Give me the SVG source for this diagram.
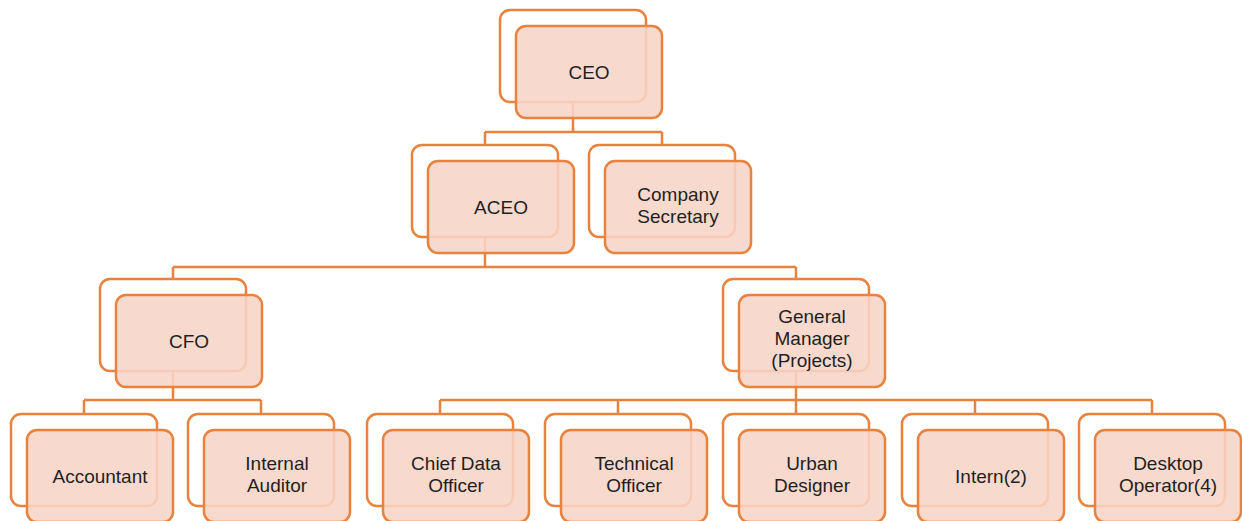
<svg xmlns="http://www.w3.org/2000/svg" width="1242" height="521" viewBox="0 0 1242 521">
  <style>
    .back { fill: #ffffff; stroke: #E8833F; stroke-width: 2.5; }
    .front { fill: #F7D4C6; fill-opacity: 0.88; stroke: #E8833F; stroke-width: 2.5; }
    .wire { fill: none; stroke: #E8833F; stroke-width: 2.5; }
    text { font-family: "Liberation Sans", Arial, sans-serif; font-size: 19px; fill: #1f1f1f; text-anchor: middle; }
  </style>
  <defs>
    <!-- stacked card: outlined back plate with a tinted plate offset down-right -->
    <g id="card">
      <rect class="back" x="0" y="0" width="146" height="92" rx="10"/>
      <rect class="front" x="16" y="16" width="146" height="92" rx="10"/>
    </g>
  </defs>

  <g id="connectors">
    <path class="wire" d="M573,102 V132 M485,132 H662 M485,132 V145 M662,132 V145"/>
    <path class="wire" d="M485,237 V267 M173,267 H796 M173,267 V279 M796,267 V279"/>
    <path class="wire" d="M173,371 V400 M84,400 H261 M84,400 V414 M261,400 V414"/>
    <path class="wire" d="M796,371 V400 M440,400 H1152 M440,400 V414 M618,400 V414 M796,400 V414 M975,400 V414 M1152,400 V414"/>
  </g>

  <g id="ceo">
    <use href="#card" x="500" y="10"/>
    <text x="589" y="79">CEO</text>
  </g>
  <g id="aceo">
    <use href="#card" x="412" y="145"/>
    <text x="501" y="214">ACEO</text>
  </g>
  <g id="company-secretary">
    <use href="#card" x="589" y="145"/>
    <text x="678" y="201">Company</text>
    <text x="678" y="223">Secretary</text>
  </g>
  <g id="cfo">
    <use href="#card" x="100" y="279"/>
    <text x="189" y="348">CFO</text>
  </g>
  <g id="general-manager">
    <use href="#card" x="723" y="279"/>
    <text x="812" y="323">General</text>
    <text x="812" y="345">Manager</text>
    <text x="812" y="367">(Projects)</text>
  </g>
  <g id="accountant">
    <use href="#card" x="11" y="414"/>
    <text x="100" y="483">Accountant</text>
  </g>
  <g id="internal-auditor">
    <use href="#card" x="188" y="414"/>
    <text x="277" y="470">Internal</text>
    <text x="277" y="492">Auditor</text>
  </g>
  <g id="chief-data-officer">
    <use href="#card" x="367" y="414"/>
    <text x="456" y="470">Chief Data</text>
    <text x="456" y="492">Officer</text>
  </g>
  <g id="technical-officer">
    <use href="#card" x="545" y="414"/>
    <text x="634" y="470">Technical</text>
    <text x="634" y="492">Officer</text>
  </g>
  <g id="urban-designer">
    <use href="#card" x="723" y="414"/>
    <text x="812" y="470">Urban</text>
    <text x="812" y="492">Designer</text>
  </g>
  <g id="intern">
    <use href="#card" x="902" y="414"/>
    <text x="991" y="483">Intern(2)</text>
  </g>
  <g id="desktop-operator">
    <use href="#card" x="1079" y="414"/>
    <text x="1168" y="470">Desktop</text>
    <text x="1168" y="492">Operator(4)</text>
  </g>
</svg>
